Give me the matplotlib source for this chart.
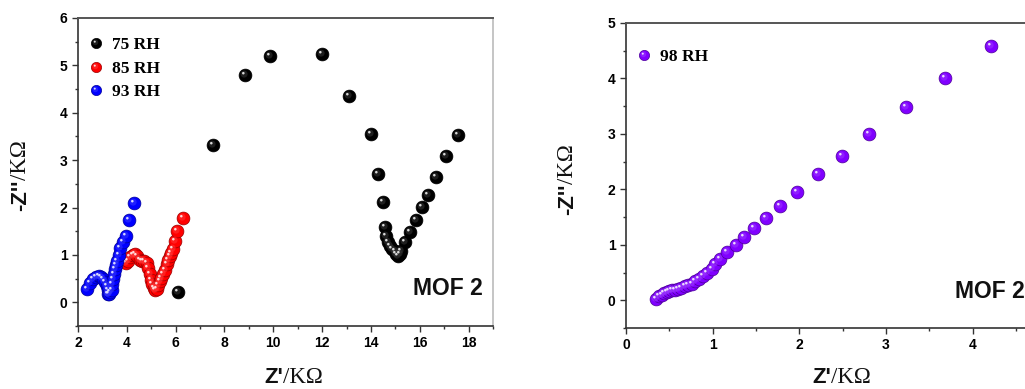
import numpy as np
import matplotlib
matplotlib.use("Agg")
import matplotlib.pyplot as plt
from matplotlib.path import Path
from matplotlib.markers import MarkerStyle
from matplotlib.legend_handler import HandlerTuple
from matplotlib.colors import to_rgb
from matplotlib.ticker import MultipleLocator

plt.rcParams['font.family'] = 'Liberation Sans'

# Nyquist data, Z' and -Z'' in kOhm
x75 = [6.09, 7.52, 8.83, 9.86, 11.98, 13.09, 14.02, 14.29, 14.49, 14.56, 14.63, 14.70,
       14.77, 14.87, 14.97, 15.04, 15.11, 15.18, 15.25, 15.38, 15.58, 15.83, 16.10,
       16.33, 16.68, 17.09, 17.56]
y75 = [0.21, 3.32, 4.80, 5.20, 5.24, 4.36, 3.55, 2.71, 2.11, 1.59, 1.40, 1.28,
       1.19, 1.12, 1.08, 1.02, 0.98, 1.03, 1.08, 1.27, 1.48, 1.74, 2.01,
       2.26, 2.65, 3.09, 3.54]

x85 = [3.95, 4.05, 4.15, 4.25, 4.33, 4.42, 4.52, 4.62, 4.72, 4.81, 4.88, 4.95, 5.00,
       5.05, 5.10, 5.15, 5.22, 5.28, 5.35, 5.42, 5.49, 5.56, 5.63, 5.70, 5.76, 5.83,
       5.90, 5.97, 6.04, 6.31]
y85 = [0.82, 0.88, 0.95, 1.00, 1.03, 0.97, 0.90, 0.88, 0.87, 0.84, 0.73, 0.60, 0.48,
       0.38, 0.30, 0.25, 0.28, 0.36, 0.45, 0.52, 0.59, 0.68, 0.80, 0.89, 0.98, 1.05,
       1.12, 1.30, 1.51, 1.77]

x93 = [2.36, 2.50, 2.63, 2.75, 2.87, 2.96, 3.04, 3.10, 3.17, 3.21, 3.24, 3.29, 3.33,
       3.38, 3.41, 3.44, 3.48, 3.51, 3.56, 3.61, 3.66, 3.72, 3.83, 3.95, 4.10, 4.30]
y93 = [0.29, 0.40, 0.50, 0.54, 0.56, 0.54, 0.49, 0.42, 0.34, 0.25, 0.17, 0.18, 0.22,
       0.27, 0.38, 0.49, 0.60, 0.70, 0.78, 0.87, 1.00, 1.14, 1.27, 1.40, 1.73, 2.09]

x98 = [0.35, 0.38, 0.41, 0.44, 0.47, 0.50, 0.53, 0.56, 0.60, 0.64, 0.68, 0.72, 0.76,
       0.80, 0.84, 0.89, 0.94, 0.99, 1.03, 1.08, 1.16, 1.27, 1.36, 1.48, 1.62, 1.78,
       1.97, 2.22, 2.49, 2.81, 3.23, 3.68, 4.21]
y98 = [0.03, 0.07, 0.10, 0.13, 0.15, 0.17, 0.18, 0.19, 0.21, 0.23, 0.25, 0.27, 0.30,
       0.34, 0.38, 0.44, 0.50, 0.57, 0.66, 0.75, 0.87, 0.99, 1.15, 1.30, 1.49, 1.70,
       1.95, 2.28, 2.61, 3.00, 3.48, 4.01, 4.59]

left_series = [("75 RH", x75, y75, "#000000"),
               ("85 RH", x85, y85, "#ff0000"),
               ("93 RH", x93, y93, "#0000ff")]
right_series = [("98 RH", x98, y98, "#8000ff")]


def blob(dx, dy, r):
    # offset disc inside a unit frame so it lines up with a plain 'o' marker
    frame = Path([(-1, -1), (1, 1)], [Path.MOVETO, Path.MOVETO])
    return MarkerStyle(Path.make_compound_path(frame, Path.circle((dx, dy), r)))


MID = blob(-0.22, 0.22, 0.55)
HI = blob(-0.34, 0.36, 0.2)


def lighten(rgb, f):
    return tuple(np.array(rgb) + (1 - np.array(rgb)) * f)


def spheres(ax, x, y, color, s):
    rgb = to_rgb(color)
    base = ax.scatter(x, y, s=s, color=rgb, edgecolors=tuple(np.array(rgb) * 0.6),
                      linewidths=0.5, zorder=3)
    mid = ax.scatter(x, y, s=s, marker=MID, color=lighten(rgb, 0.22), alpha=0.55,
                     linewidths=0, zorder=3)
    hi = ax.scatter(x, y, s=s, marker=HI, color=lighten(rgb, 0.85), linewidths=0,
                    zorder=3)
    return (base, mid, hi)


def style_axes(ax, xmaj, ymaj):
    ax.xaxis.set_major_locator(MultipleLocator(xmaj))
    ax.xaxis.set_minor_locator(MultipleLocator(xmaj / 2))
    ax.yaxis.set_major_locator(MultipleLocator(ymaj))
    ax.yaxis.set_minor_locator(MultipleLocator(ymaj / 2))
    ax.tick_params(which='both', direction='out', top=False, right=False,
                   width=1, color='#333333')
    ax.tick_params(which='major', length=4, pad=3.5, labelsize=10)
    ax.tick_params(which='minor', length=2.5)
    for lab in ax.get_xticklabels() + ax.get_yticklabels():
        lab.set_fontweight('bold')
    for side in ['left', 'bottom']:
        ax.spines[side].set_color('#333333')
        ax.spines[side].set_linewidth(1.2)
    ax.spines['top'].set_color('#555555')
    ax.spines['top'].set_linewidth(1.4)
    ax.spines['right'].set_color('#bbbbbb')
    ax.spines['right'].set_linewidth(1.2)


W, H = 1025, 389
fig = plt.figure(figsize=(W / 100, H / 100), dpi=100)

ax1 = fig.add_axes([78 / W, 1 - 326 / H, 415 / W, 308 / H])
ax2 = fig.add_axes([626 / W, 1 - 328 / H, 415 / W, 305 / H])

ax1.set_xlim(2, 19)
ax1.set_ylim(-0.5, 6)
ax2.set_xlim(0, 4.79)
ax2.set_ylim(-0.5, 5)

for ax, series, anchor_y in [(ax1, left_series, 0.955), (ax2, right_series, 0.933)]:
    handles, labels = [], []
    for name, x, y, c in series:
        handles.append(spheres(ax, x, y, c, s=85))
        labels.append(name)
    ax.legend(handles, labels, handler_map={tuple: HandlerTuple(ndivide=1, pad=0)},
              loc='upper left', bbox_to_anchor=(0.014, anchor_y), borderaxespad=0,
              borderpad=0.3, handlelength=0.8, handletextpad=0.5, labelspacing=0.42,
              markerscale=0.8, scatterpoints=1, scatteryoffsets=[0.5], frameon=False,
              prop=dict(family='Liberation Serif', weight='bold', size=12.5))

style_axes(ax1, 2, 1)
style_axes(ax2, 1, 1)

ax1.text(0.976, 0.10, "MOF 2", transform=ax1.transAxes, ha='right', va='baseline',
         fontsize=16.5, fontweight='bold', color='#111111')
ax2.text(0.793, 0.10, "MOF 2", transform=ax2.transAxes, ha='left', va='baseline',
         fontsize=16.5, fontweight='bold', color='#111111')


def axis_label(px, py, rotation):
    # bold sans "Z" part followed by the serif unit
    x, y = px / W, 1 - py / H
    head = "-Z''" if rotation else "Z'"
    fig.text(x, y, head, ha='right', va='baseline', rotation=rotation,
             rotation_mode='anchor', fontsize=16, fontweight='bold', color='#111111')
    fig.text(x, y, "/K\u03a9", ha='left', va='baseline', rotation=rotation,
             rotation_mode='anchor', fontsize=16.5, family='Liberation Serif',
             color='#111111')


axis_label(283, 383, 0)
axis_label(831, 383, 0)
axis_label(26, 180, 90)
axis_label(573, 184, 90)

fig.savefig("out.png", dpi=100)
